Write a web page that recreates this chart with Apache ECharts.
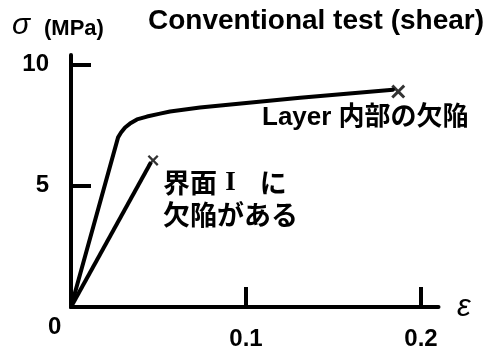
<!DOCTYPE html>
<html>
<head>
<meta charset="utf-8">
<script src="https://cdn.jsdelivr.net/npm/echarts@6/dist/echarts.min.js"></script>
<style>html,body{margin:0;padding:0;background:#fff;}#c{width:497px;height:351px;}</style>
</head>
<body>
<div id="c"></div>
<script>
// Data
const layerStrain = [0, 0.0269, 0.0286, 0.0309, 0.0337, 0.0377, 0.0434, 0.0509, 0.0566, 0.0737, 0.1309, 0.184];
const layerStress = [0, 7.00, 7.20, 7.41, 7.57, 7.74, 7.86, 7.98, 8.07, 8.23, 8.64, 8.97];
const interfaceStrain = [0, 0.0457];
const interfaceStress = [0, 5.97];
const failureStrain = [0.187, 0.0469];
const failureStress = [8.89, 6.05];
const failureSize = [14, 11];
const xTicks = [0.1, 0.2];
const yTicks = [5, 10];

const FONT = "'Liberation Sans', 'Noto Sans CJK JP', sans-serif";
const CJK = "'Noto Sans CJK JP', sans-serif";
const XPATH = 'path://M0,1.5L1.5,0L5,3.5L8.5,0L10,1.5L6.5,5L10,8.5L8.5,10L5,6.5L1.5,10L0,8.5L3.5,5Z';

function pairs(xs, ys) { return xs.map((x, i) => [x, ys[i]]); }
function txt(text, left, top, size, opts) {
  return {
    text: text, left: left, top: top, padding: 0,
    textStyle: Object.assign({ fontFamily: FONT, fontSize: size, fontWeight: 'bold', color: '#000' }, opts || {})
  };
}

const chart = echarts.init(document.getElementById('c'), null, { renderer: 'canvas' });
chart.setOption({
  backgroundColor: '#fff',
  animation: false,
  title: [
    txt('σ', 12, 11, 30, { fontStyle: 'italic', fontWeight: 'normal' }),
    txt('(MPa)', 44, 18, 22),
    txt('Conventional test (shear)', 148, 7, 28),
    txt('Layer 内部の欠陥', 262, 105, 26),
    txt('界面 {r|I} に', 163, 168, 27, { fontFamily: CJK, lineHeight: 30,
      rich: { r: { fontFamily: "'Liberation Serif', serif", fontWeight: 'bold', fontSize: 27, lineHeight: 30,
        color: '#000', padding: [0, 18, 0, 2] } } }),
    txt('欠陥がある', 163, 201, 27, { fontFamily: CJK }),
    txt('0', 48, 315, 24),
    txt('ε', 457, 292, 31, { fontStyle: 'italic', fontWeight: 'normal' })
  ],
  grid: { left: 71, top: 55, width: 367.5, height: 253, containLabel: false },
  xAxis: {
    type: 'value', min: 0, max: 0.21,
    splitLine: { show: false },
    axisLine: { lineStyle: { color: '#000', width: 4 } },
    axisTick: { inside: true, length: 20, lineStyle: { color: '#000', width: 4 }, customValues: xTicks },
    axisLabel: { customValues: xTicks, margin: 20, color: '#000', fontFamily: FONT, fontSize: 24, fontWeight: 'bold',
      formatter: v => String(Math.round(v * 10) / 10) }
  },
  yAxis: {
    type: 'value', min: 0, max: 10.4,
    splitLine: { show: false },
    axisLine: { lineStyle: { color: '#000', width: 4 } },
    axisTick: { inside: true, length: 20, lineStyle: { color: '#000', width: 4 }, customValues: yTicks },
    axisLabel: { customValues: yTicks, margin: 22, color: '#000', fontFamily: FONT, fontSize: 24, fontWeight: 'bold',
      formatter: v => String(v) }
  },
  series: [
    { type: 'line', data: pairs(layerStrain, layerStress), smooth: false, showSymbol: false,
      lineStyle: { color: '#000', width: 4, join: 'round', cap: 'round' } },
    { type: 'line', data: pairs(interfaceStrain, interfaceStress), showSymbol: false,
      lineStyle: { color: '#000', width: 4 } },
    { type: 'scatter', data: pairs(failureStrain, failureStress),
      symbol: XPATH, symbolSize: (v, p) => failureSize[p.dataIndex],
      itemStyle: { color: '#000' } }
  ]
});
</script>
</body>
</html>
